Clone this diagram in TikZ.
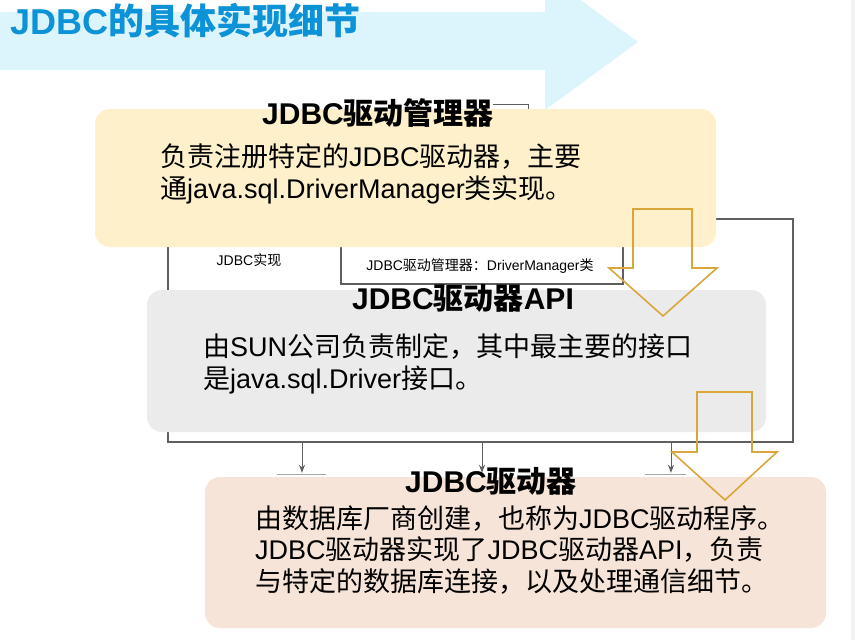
\documentclass[tikz,border=0pt]{standalone}
\usepackage{fontspec}
\setmainfont{Noto Sans CJK SC}
\newfontfamily\enfont{Liberation Sans}
\newcommand{\en}[1]{{\enfont #1}}
\usetikzlibrary{arrows.meta,backgrounds}

\definecolor{bannerblue}{RGB}{220,244,252}
\definecolor{titleblue}{RGB}{12,146,214}
\definecolor{mgrfill}{RGB}{254,240,202}
\definecolor{apifill}{RGB}{235,235,235}
\definecolor{drvfill}{RGB}{247,228,217}
\definecolor{linkgray}{RGB}{95,95,95}
\definecolor{arrowgold}{RGB}{218,166,60}

\tikzset{
  panel/.style={rectangle, rounded corners=15pt, inner sep=0pt},
  pagetitle/.style={anchor=base west, inner sep=0pt, text=titleblue,
    font=\bfseries\fontsize{36}{36}\selectfont},
  paneltitle/.style={anchor=base, inner sep=0pt, font=\bfseries\fontsize{30}{30}\selectfont},
  % anchor base of a multi-line node = baseline of its last line
  paneltext/.style={anchor=base west, inner sep=0pt, align=left,
    font=\fontsize{27}{31.5}\selectfont},
  tag/.style={anchor=base, inner sep=0pt, font=\fontsize{14}{14}\selectfont},
  link/.style={draw=linkgray, line width=1.4pt},
  hollow/.style={draw=arrowgold, line width=1.6pt, line join=miter},
}

\begin{document}
\begin{tikzpicture}[x=1pt,y=-1pt]
  \useasboundingbox (0,0) rectangle (855,640);

  % three panels
  \node[panel, fill=mgrfill, minimum width=621pt, minimum height=138pt] (mgr) at (405.5,178) {};
  \node[panel, fill=apifill, minimum width=619pt, minimum height=142pt] (api) at (456.5,361) {};
  \node[panel, fill=drvfill, minimum width=621pt, minimum height=151pt] (drv) at (515.5,552.5) {};

  \begin{pgfonlayer}{background}
    % banner
    \fill[bannerblue] (0,12) -- (545,12) -- (545,-26) -- (638,42) -- (545,110) -- (545,70) -- (0,70) -- cycle;
    \fill[black!5] (851,0) rectangle (855,640);
    % bus under the panels
    \coordinate (busL) at (168,442);
    \coordinate (busR) at (793,442);
    \coordinate (busTop) at (793,219);
    \coordinate (tagL) at (341,284);
    \coordinate (tagR) at (623,284);
    \draw[link] (mgr.south -| busL) -- (busL) -- (busR) -- (busTop) -- (busTop -| mgr.east);
    \draw[link] (mgr.south -| tagL) -- (tagL) -- (tagR) -- (mgr.south -| tagR);
    \draw[link, line width=1pt] (493,104) -- (528,104) -- (528,112);
  \end{pgfonlayer}

  \foreach \x in {302,482,671} {
    \coordinate (drop) at (\x,442);
    \draw[link, line width=1pt, -{Stealth[length=8pt,width=6pt]}, shorten >=4pt] (drop) -- (drop |- drv.north);
  }
  \draw[black!35, line width=1pt] (277,474) -- (326,474);
  \draw[black!35, line width=1pt] (645,474) -- (686,474);

  % texts
  \node[pagetitle] (title) at (10,34) {\en{JDBC}的具体实现细节};
  \node[tag] (implTag) at (249,265) {\en{JDBC}实现};
  \node[tag] (mgrTag) at (480,270) {\en{JDBC}驱动管理器：\en{DriverManager}类};

  \node[paneltitle] (mgrTitle) at (378,124) {\en{JDBC}驱动管理器};
  \node[paneltext] (mgrText) at (160,198) {负责注册特定的\en{JDBC}驱动器，主要\\通\en{java.sql.DriverManager}类实现。};

  \node[paneltitle] (apiTitle) at (463,309) {\en{JDBC}驱动器\en{API}};
  \node[paneltext] (apiText) at (203,388) {由\en{SUN}公司负责制定，其中最主要的接口\\是\en{java.sql.Driver}接口。};

  \node[paneltitle] (drvTitle) at (491,492) {\en{JDBC}驱动器};
  \node[paneltext] (drvText) at (255,591) {由数据库厂商创建，也称为\en{JDBC}驱动程序。\\\en{JDBC}驱动器实现了\en{JDBC}驱动器\en{API}，负责\\与特定的数据库连接，以及处理通信细节。};

  % hollow arrows
  \draw[hollow] (633,209) -- (692,209) -- (692,268) -- (717,268) -- (663,316) -- (609,268) -- (633,268) -- cycle;
  \draw[hollow] (697,392) -- (752,392) -- (752,452) -- (777,452) -- (725,500) -- (672,452) -- (697,452) -- cycle;
\end{tikzpicture}
\end{document}
